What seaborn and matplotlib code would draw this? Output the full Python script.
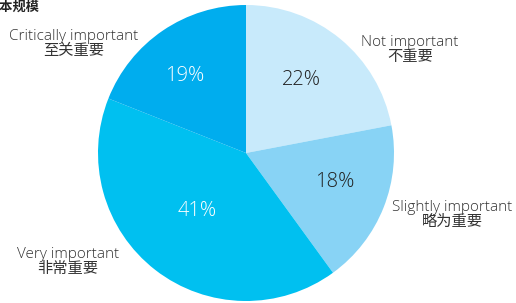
import matplotlib
matplotlib.use("Agg")
import matplotlib.pyplot as plt
import seaborn as sns

# data
categories = ["Not important\n不重要", "Slightly important\n略为重要",
              "Very important\n非常重要", "Critically important\n至关重要"]
shares = [22, 18, 41, 19]
colors = ["#c8eafb", "#88d3f5", "#00c0f0", "#00adee"]
pct_colors = ["#222222", "#222222", "white", "white"]

sns.set_theme(style="white")
plt.rcParams["font.family"] = ["Open Sans", "Noto Sans CJK SC", "DejaVu Sans"]

W, H = 516, 303
fig = plt.figure(figsize=(W / 100, H / 100), dpi=100)
ax = fig.add_axes([0, 0, 1, 1])

wedges, texts, autotexts = ax.pie(
    shares, colors=colors, startangle=90, counterclock=False,
    center=(246, H - 153), radius=148, autopct="%d%%", pctdistance=0.62,
    wedgeprops=dict(linewidth=0), textprops=dict(fontsize=14.5, fontweight="light"),
)
for t, c in zip(autotexts, pct_colors):
    t.set_color(c)
# small nudges to match the reference placement
autotexts[0].set_position((301, H - 80))
autotexts[1].set_position((335, H - 182))
autotexts[2].set_position((197, H - 211))
autotexts[3].set_position((185, H - 76))

label_pos = [(410, H - 50), (452, H - 215), (68, H - 262), (74, H - 44)]
for lab, (x, y) in zip(categories, label_pos):
    ax.text(x, y, lab, ha="center", va="center", fontsize=11,
            fontweight="light", color="#333333", linespacing=1.05)

# cut-off title at the top-left corner (cropped in the reference too)
ax.text(-13, H - 7, "样本规模", ha="left", va="center", fontsize=9.5,
        fontweight="bold", color="#222222")

ax.set_xlim(0, W)
ax.set_ylim(0, H)
ax.set_aspect("equal")
ax.axis("off")

fig.savefig("out.png", dpi=100)
